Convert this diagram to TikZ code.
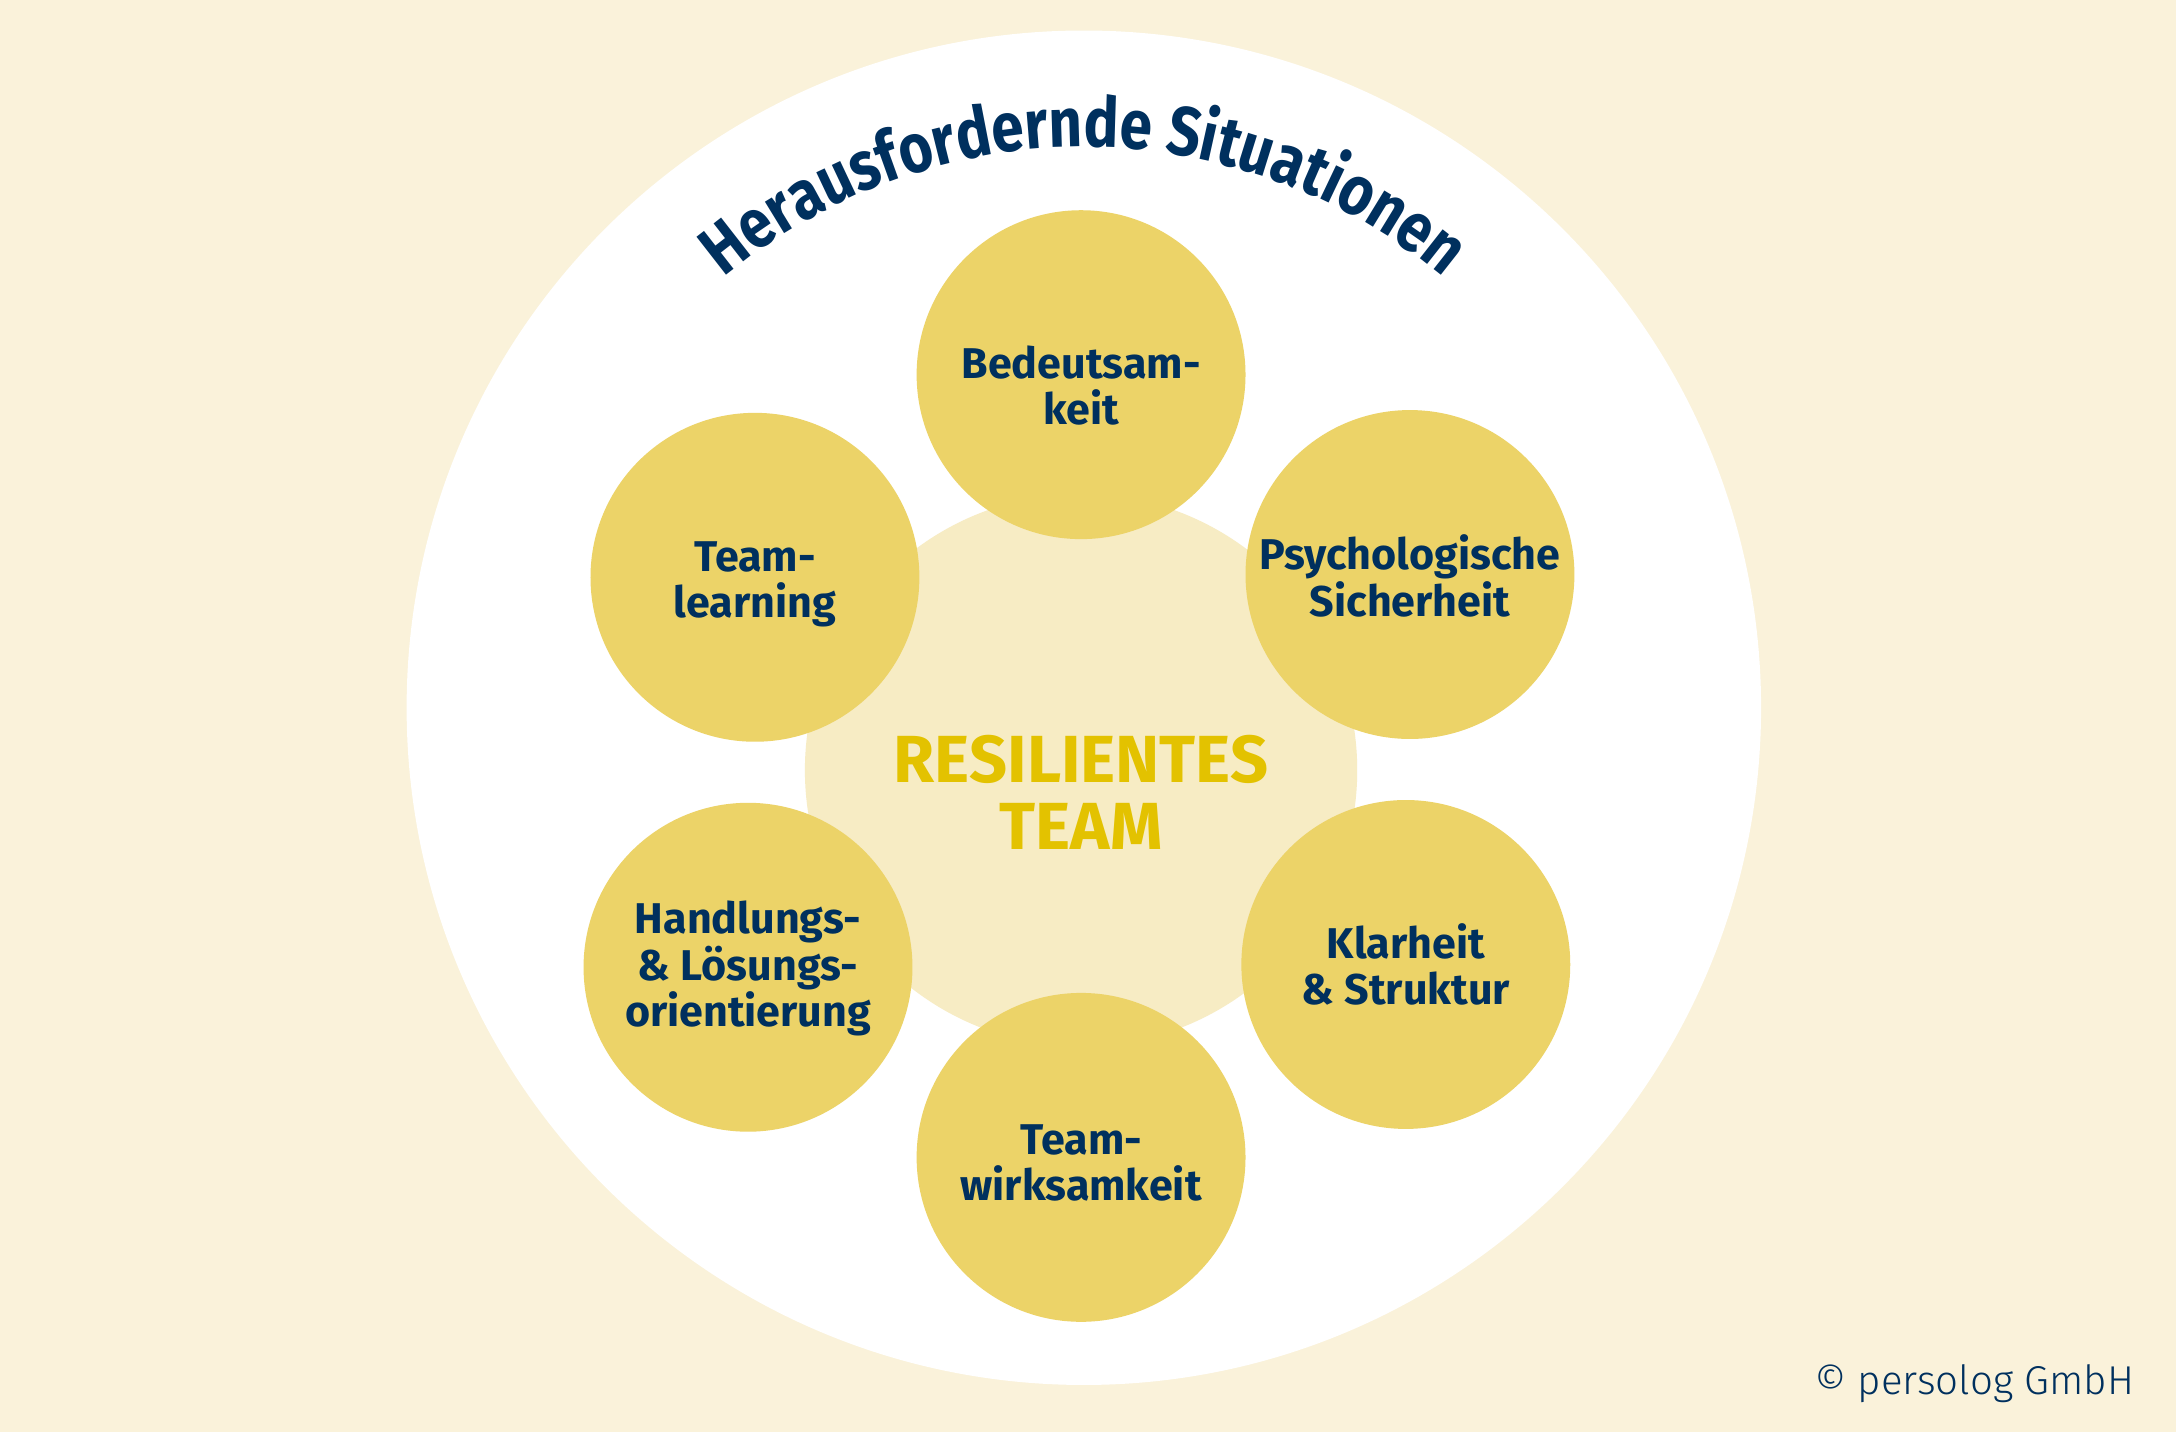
\documentclass[tikz,border=0pt]{standalone}
\usepackage{fontspec}
\setmainfont{Fira Sans}
\newfontfamily\titlefont{Fira Sans}[FakeStretch=0.84]
\newfontfamily\lightfont{Fira Sans Light}
\usetikzlibrary{decorations.text}
\definecolor{bgcream}{RGB}{250,242,218}
\definecolor{centerfill}{RGB}{247,236,196}
\definecolor{goldfill}{RGB}{236,211,104}
\definecolor{navy}{RGB}{0,48,94}
\definecolor{resgold}{RGB}{227,194,0}
\tikzset{
  factor/.style={circle, fill=goldfill, minimum size=237pt, inner sep=0pt},
  factortext/.style={text=navy, font=\bfseries\fontsize{31}{33.5}\selectfont, align=center, inner sep=0pt},
}
\begin{document}
\begin{tikzpicture}[x=1pt,y=1pt]
\fill[bgcream] (0,0) rectangle (1568,1032);
\useasboundingbox (0,0) rectangle (1568,1032);
\node[circle, fill=white, minimum size=976pt, inner sep=0pt] (outer) at (781,522) {};
\node[circle, fill=centerfill, minimum size=398pt, inner sep=0pt] (core) at (779,477) {};
\node[factor] (b1) at (779,762) {};
\node[factor] (b2) at (1016,618) {};
\node[factor] (b3) at (1013,337) {};
\node[factor] (b4) at (779,198) {};
\node[factor] (b5) at (539,335) {};
\node[factor] (b6) at (544,616) {};
\node[factortext] (t1) at (779,754) {Bedeutsam-\\keit};
\node[factortext] (t2) at (1016,617) {Psychologische\\Sicherheit};
\node[factortext] (t3) at (1013,337) {Klarheit\\\& Struktur};
\node[factortext] (t4) at (779,194) {Team-\\wirksamkeit};
\node[factortext] (t5) at (539,334) {Handlungs-\\\& Lösungs-\\orientierung};
\node[factortext] (t6) at (544,611) {Team-\\learning};
\node[text=resgold, font=\bfseries\fontsize{48}{48}\selectfont, align=center, inner sep=0pt] (res) at (779,461) {RESILIENTES\\TEAM};
\path[decorate, decoration={text along path, text align=center, text color=navy,
  text={|\titlefont\bfseries\fontsize{50}{50}\selectfont|Herausfordernde Situationen}}]
  (outer.center) ++(140:404) arc[start angle=140, end angle=40, radius=404];
\node[text=navy, font=\lightfont\fontsize{29}{29}\selectfont, anchor=east, inner sep=0pt] (copy) at (1538,35) {© persolog GmbH};
\end{tikzpicture}
\end{document}
